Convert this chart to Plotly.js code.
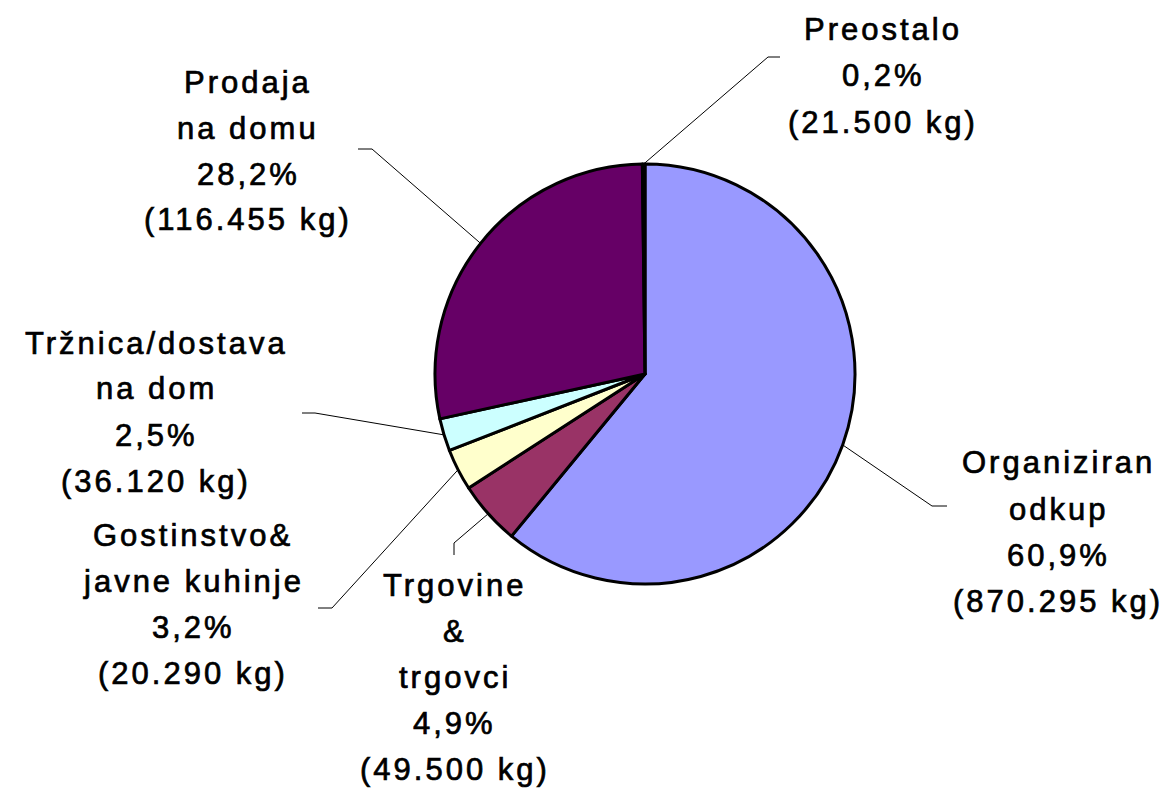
<!DOCTYPE html>
<html>
<head>
<meta charset="utf-8">
<script src="https://cdn.plot.ly/plotly-3.0.1.min.js"></script>
<style>
  html, body { margin: 0; padding: 0; background: #fff; }
  #chart { width: 1168px; height: 789px; }
  .annotation-text { letter-spacing: 3px; stroke: #000; stroke-width: 0.7px; }
</style>
</head>
<body>
<div id="chart"></div>
<script>
// ── Data ───────────────────────────────────────────────────────────────────────
const categories = ["Organiziran odkup", "Trgovine & trgovci", "Gostinstvo& javne kuhinje",
                    "Tržnica/dostava na dom", "Prodaja na domu", "Preostalo"];
const labelLines = [["Organiziran", "odkup"], ["Trgovine", "&", "trgovci"], ["Gostinstvo&", "javne kuhinje"],
                    ["Tržnica/dostava", "na dom"], ["Prodaja", "na domu"], ["Preostalo"]];
const shares = [60.9, 4.9, 3.2, 2.5, 28.2, 0.2];
const kgLabels = ["870.295", "49.500", "20.290", "36.120", "116.455", "21.500"];
const colors = ["#9999FF", "#993366", "#FFFFCC", "#CCFFFF", "#660066", "#000000"];

// ── Layout constants (pixels) ──────────────────────────────────────────────────
const W = 1168, H = 789;
const PIE = { cx: 645, cy: 374, r: 210 };
const LINE_GAP = 46;
// label block: centre x, first line centre y
const labelPos = [[1058, 463], [455, 585], [193, 535], [156, 343], [248, 82], [883, 30]];
// leader line: outer end, elbow (then goes to slice edge)
const leaderPts = [
  [[947, 506], [932, 506]],
  [[454, 555], [454, 543]],
  [[318, 608], [332, 608]],
  [[302, 413], [315, 413]],
  [[358, 149], [372, 149]],
  [[780, 57], [768, 57]],
];

const px = x => x / W;
const py = y => 1 - y / H;

// mid angle of each slice (clockwise from 12 o'clock)
const total = shares.reduce((s, v) => s + v, 0);
let acc = 0;
const midAngles = shares.map(v => {
  const a = (acc + v / 2) / total * 2 * Math.PI;
  acc += v;
  return a;
});

const annotations = [];
const shapes = [];

categories.forEach((c, i) => {
  const lines = [...labelLines[i], shares[i].toFixed(1).replace(".", ",") + "%", "(" + kgLabels[i] + " kg)"];
  const [lx, ly] = labelPos[i];
  lines.forEach((t, k) => {
    annotations.push({
      xref: "paper", yref: "paper",
      x: px(lx), y: py(ly + k * LINE_GAP),
      xanchor: "center", yanchor: "middle",
      text: t, showarrow: false,
      font: { family: "Arial, 'Liberation Sans', sans-serif", size: 31, color: "#000" },
    });
  });

  const edgeX = PIE.cx + PIE.r * Math.sin(midAngles[i]);
  const edgeY = PIE.cy - PIE.r * Math.cos(midAngles[i]);
  const [p0, p1] = leaderPts[i];
  shapes.push({
    type: "path", xref: "paper", yref: "paper",
    path: `M ${px(p0[0])},${py(p0[1])} L ${px(p1[0])},${py(p1[1])} L ${px(edgeX)},${py(edgeY)}`,
    line: { color: "#000", width: 1 },
  });
});

Plotly.newPlot("chart", [{
  type: "pie",
  labels: categories,
  values: shares,
  sort: false,
  direction: "clockwise",
  rotation: 0,
  textinfo: "none",
  hoverinfo: "label+percent",
  marker: { colors, line: { color: "#000", width: 3 } },
  domain: {
    x: [px(PIE.cx - PIE.r), px(PIE.cx + PIE.r)],
    y: [py(PIE.cy + PIE.r), py(PIE.cy - PIE.r)],
  },
}], {
  width: W, height: H,
  margin: { t: 0, r: 0, b: 0, l: 0 },
  paper_bgcolor: "#fff",
  showlegend: false,
  annotations,
  shapes,
}, { displayModeBar: false });
</script>
</body>
</html>
